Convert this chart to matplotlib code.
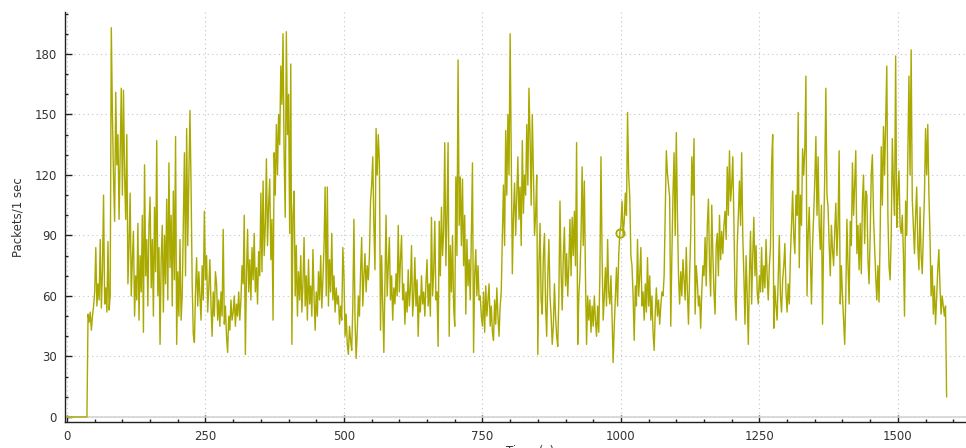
import numpy as np
import matplotlib
matplotlib.use("Agg")
import matplotlib.pyplot as plt
from matplotlib.ticker import MultipleLocator

# Packets per interval, one value every 2 s
interval = 2
packets = [
    0, 0, 0, 0, 0, 0, 0, 0, 0, 0, 0, 0, 0, 0, 0, 0, 0, 0, 0, 51, 47, 52, 43, 50, 55,
    62, 84, 55, 66, 58, 88, 54, 72, 110, 56, 64, 52, 87, 53, 60, 193, 150, 118, 97, 161, 125, 140, 98, 130, 163,
    110, 162, 120, 98, 140, 66, 85, 111, 60, 78, 92, 50, 70, 58, 96, 48, 80, 62, 100, 42, 125, 70, 88, 55, 95,
    109, 64, 88, 50, 104, 72, 137, 60, 84, 36, 78, 95, 52, 90, 66, 108, 58, 126, 74, 100, 55, 112, 68, 139, 36,
    72, 50, 88, 48, 60, 95, 131, 70, 143, 85, 120, 152, 114, 66, 41, 37, 62, 79, 55, 72, 60, 48, 75, 58, 102,
    68, 80, 52, 64, 78, 55, 40, 62, 50, 72, 66, 48, 58, 45, 62, 50, 93, 46, 55, 40, 32, 50, 43, 58, 48,
    52, 60, 45, 56, 50, 62, 48, 58, 75, 66, 100, 31, 70, 93, 62, 78, 58, 84, 68, 91, 62, 74, 56, 82, 70,
    111, 72, 117, 80, 95, 128, 85, 105, 118, 78, 98, 48, 131, 110, 145, 120, 150, 135, 174, 155, 190, 130, 99, 191, 140,
    160, 91, 175, 36, 100, 112, 60, 85, 50, 72, 58, 80, 52, 66, 89, 55, 70, 48, 78, 56, 65, 50, 83, 60, 43,
    62, 50, 72, 58, 80, 54, 68, 85, 114, 60, 114, 55, 78, 62, 91, 58, 70, 52, 64, 56, 60, 46, 55, 48, 84,
    70, 40, 51, 36, 31, 45, 38, 33, 55, 98, 48, 29, 42, 60, 50, 72, 89, 55, 70, 81, 62, 75, 68, 80, 107,
    115, 129, 95, 73, 143, 120, 140, 126, 43, 80, 55, 32, 66, 100, 60, 75, 89, 58, 70, 48, 64, 56, 71, 60, 95,
    62, 78, 90, 58, 66, 46, 62, 52, 73, 55, 64, 85, 50, 60, 79, 55, 68, 40, 60, 52, 70, 56, 62, 50, 66,
    78, 55, 66, 50, 99, 60, 72, 97, 58, 62, 35, 97, 70, 104, 80, 92, 136, 75, 100, 136, 40, 85, 62, 90, 55,
    45, 119, 80, 177, 95, 119, 85, 118, 75, 100, 51, 88, 65, 78, 58, 90, 126, 32, 70, 83, 60, 75, 58, 60, 50,
    45, 62, 42, 65, 50, 58, 66, 45, 55, 42, 38, 58, 46, 64, 50, 40, 55, 62, 90, 115, 85, 142, 110, 150, 120,
    190, 130, 71, 100, 116, 90, 110, 129, 98, 114, 85, 137, 101, 120, 110, 145, 115, 163, 139, 105, 150, 122, 90, 100, 120,
    31, 75, 96, 58, 51, 80, 91, 55, 40, 70, 88, 60, 50, 36, 45, 66, 50, 40, 35, 60, 107, 72, 53, 80, 94,
    65, 81, 60, 75, 98, 70, 99, 80, 102, 75, 136, 36, 60, 70, 90, 124, 85, 117, 70, 36, 60, 48, 58, 42, 55,
    45, 60, 48, 40, 55, 42, 70, 129, 80, 48, 60, 74, 55, 88, 62, 56, 70, 50, 27, 45, 60, 74, 55, 80, 91,
    95, 107, 90, 97, 111, 100, 151, 120, 109, 80, 75, 60, 38, 65, 55, 88, 60, 70, 84, 55, 62, 48, 66, 52, 79,
    55, 70, 48, 60, 42, 33, 52, 64, 50, 58, 46, 55, 62, 60, 70, 100, 132, 121, 115, 109, 45, 80, 110, 131, 90,
    141, 101, 70, 56, 72, 60, 78, 68, 58, 84, 62, 46, 70, 90, 129, 110, 138, 51, 75, 67, 55, 60, 44, 62, 75,
    70, 89, 65, 95, 108, 75, 60, 105, 80, 62, 51, 85, 91, 70, 100, 78, 92, 81, 95, 102, 88, 124, 100, 132, 107,
    115, 129, 97, 60, 48, 85, 100, 117, 95, 131, 90, 70, 46, 80, 60, 36, 70, 92, 56, 80, 99, 70, 85, 62, 56,
    70, 62, 84, 62, 75, 64, 88, 70, 58, 75, 84, 125, 140, 44, 65, 55, 48, 70, 90, 60, 52, 68, 75, 86, 62,
    52, 66, 56, 80, 95, 112, 90, 81, 110, 100, 151, 74, 110, 95, 133, 120, 133, 169, 60, 90, 104, 80, 56, 85, 100,
    117, 139, 100, 129, 95, 83, 105, 46, 90, 120, 163, 110, 104, 85, 70, 95, 83, 75, 92, 106, 80, 95, 132, 56, 75,
    60, 48, 36, 60, 98, 75, 56, 97, 85, 126, 100, 115, 132, 81, 95, 73, 96, 71, 107, 120, 86, 112, 110, 78, 66,
    90, 121, 130, 100, 84, 70, 58, 75, 57, 90, 134, 105, 144, 120, 146, 174, 100, 75, 68, 90, 138, 115, 100, 179, 94,
    110, 122, 95, 91, 100, 81, 50, 107, 90, 130, 169, 120, 182, 108, 95, 81, 100, 114, 85, 73, 104, 80, 71, 90, 110,
    143, 120, 145, 111, 90, 60, 75, 51, 65, 46, 60, 73, 83, 65, 51, 60, 55, 50, 55, 10,
]
marker_time = 998  # highlighted sample

line_color = "#a9a900"
text_color = "#333333"

t = np.arange(len(packets)) * interval
packets = np.array(packets)

plt.rcParams["font.family"] = ["DejaVu Sans"]
plt.rcParams["font.size"] = 8.5

fig = plt.figure(figsize=(9.66, 4.48), dpi=100)
ax = fig.add_axes([65 / 966, 26 / 448, 901 / 966, 410 / 448])

ax.plot(t, packets, color=line_color, lw=1.0, zorder=3)
i = np.searchsorted(t, marker_time)
ax.plot(t[i], packets[i], "o", mfc="none", mec=line_color, mew=1.3, ms=6, zorder=4)

ax.set_xlim(-3.6, 1623)
ax.set_ylim(-2.5, 200.8)
ax.xaxis.set_major_locator(MultipleLocator(250))
ax.xaxis.set_minor_locator(MultipleLocator(50))
ax.yaxis.set_major_locator(MultipleLocator(30))
ax.yaxis.set_minor_locator(MultipleLocator(10))

ax.grid(True, which="major", color="#c4c4c4", lw=0.8, linestyle=(0, (1, 3)))
ax.axhline(0, color="#d4d4d4", lw=1.2, zorder=2)

for side in ("top", "right"):
    ax.spines[side].set_visible(False)
for side in ("left", "bottom"):
    ax.spines[side].set_color("#222222")
    ax.spines[side].set_linewidth(1.0)

ax.tick_params(which="major", direction="in", length=5, width=1, colors="#222222",
               labelcolor=text_color, labelsize=8.5, pad=6)
ax.tick_params(which="minor", direction="in", length=2.5, width=1, colors="#222222")

ax.set_ylabel("Packets/1 sec", color=text_color, fontsize=8.5, labelpad=7)
# x axis title sits mostly below the bottom edge, as in the reference
fig.text(0.549, 0.006, "Time (s)", ha="center", va="top", color=text_color, fontsize=8.5)

fig.savefig("out.png", dpi=100)
